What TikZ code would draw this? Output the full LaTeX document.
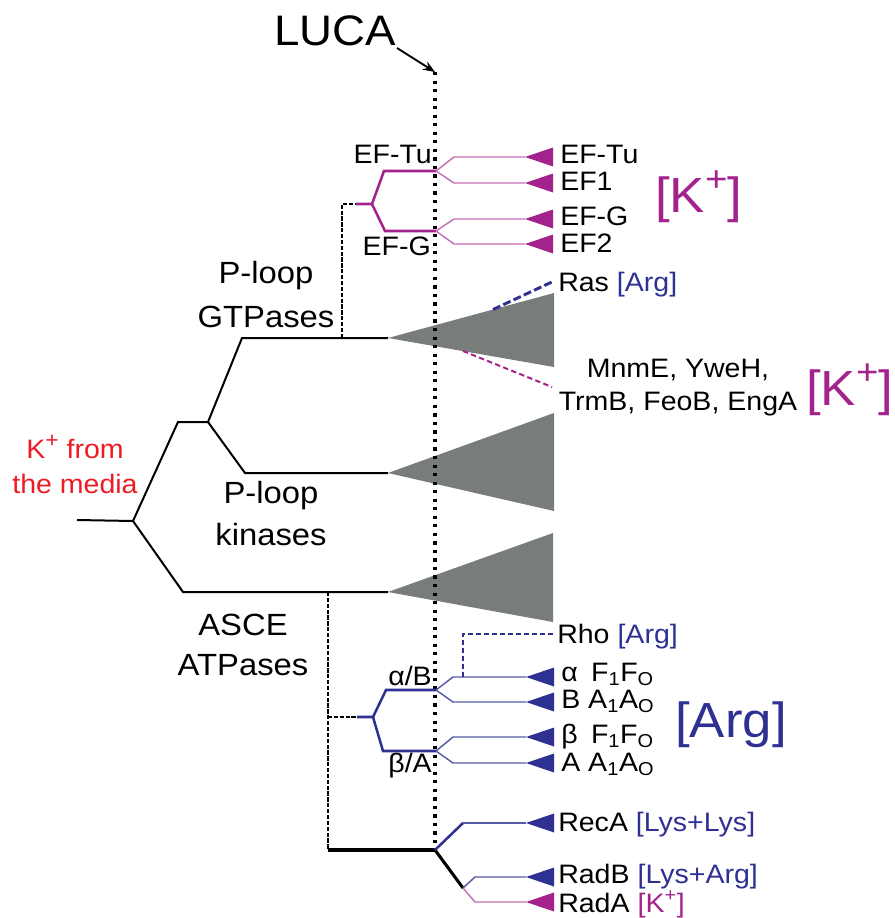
\documentclass[tikz,border=0pt]{standalone}
\usepackage{fontspec}
\setmainfont{Liberation Sans}[FakeStretch=1.07]
\usetikzlibrary{arrows.meta}
\definecolor{mag}{RGB}{163,34,140}
\definecolor{dblue}{RGB}{46,49,146}
\definecolor{tgray}{RGB}{120,125,123}
\definecolor{kred}{RGB}{237,28,36}
\newcommand\lblfont{\fontsize{20}{24}\selectfont}
\newcommand\grpfont{\fontsize{23}{28}\selectfont}
\newcommand\hugefont{\fontsize{37}{40}\selectfont}
\newcommand\lucafont{\fontsize{32}{36}\selectfont}
\newcommand\bigplus{\raisebox{0.42em}{\fontsize{27}{27}\selectfont +}}
\newcommand\leaftri[2]{\fill[#1] (#2) -- ++(28,-9.5) -- ++(0,19) -- cycle;}
\begin{document}
\begin{tikzpicture}[x=0.75pt,y=-0.75pt,
  tree/.style={line width=1.5pt,black},
  treethick/.style={line width=2.3pt,black},
  thickmag/.style={line width=1.9pt,draw=mag},
  thinmag/.style={line width=1.1pt,draw=mag!65},
  thickblue/.style={line width=1.9pt,draw=dblue},
  thinblue/.style={line width=1.1pt,draw=dblue!80},
  dotline/.style={line width=2.6pt,dash pattern=on 2.4pt off 4pt},
  dashblack/.style={line width=1.9pt,dash pattern=on 3.2pt off 1.2pt},
  lbl/.style={inner sep=0pt,font=\lblfont},
  grp/.style={inner sep=0pt,font=\grpfont,anchor=base},
  big/.style={inner sep=0pt,font=\hugefont,anchor=base west}]
\useasboundingbox (0,0) rectangle (894,918);
% ---------- coordinates ----------
\coordinate (root0) at (77,520);
\coordinate (r) at (133,521);
\coordinate (a) at (178,422);
\coordinate (a2) at (208,422);
\coordinate (g1) at (242,338);
\coordinate (gA) at (388,338);
\coordinate (k1) at (245,473);
\coordinate (kA) at (388,473);
\coordinate (s1) at (183,592);
\coordinate (sA) at (388,592);
% ---------- triangles ----------
\fill[tgray] (gA) -- (554,293) -- (554,367) -- cycle;
\fill[tgray] (kA) -- (554,413) -- (554,511) -- cycle;
\fill[tgray] (sA) -- (553,533) -- (553,622) -- cycle;
% ---------- LUCA ----------
\node[inner sep=0pt,font=\lucafont,anchor=base] (luca) at (335,45) {LUCA};
\coordinate (lucatop) at (435,72);
\coordinate (lucabot) at (435,850);
\draw[line width=1.4pt,-{Stealth[length=9pt,width=7pt]}] (397,48) -- (lucatop);
\draw[dotline] (lucatop) -- (lucabot);
% ---------- main tree ----------
\draw[tree] (root0) -- (r);
\draw[tree] (r) -- (a) -- (a2);
\draw[tree] (a2) -- (g1) -- (gA);
\draw[tree] (a2) -- (k1) -- (kA);
\draw[tree] (r) -- (s1) -- (sA);
% ---------- GTPases / EF ----------
\coordinate (gd) at (342,338);
\coordinate (gd2) at (342,204);
\coordinate (ef0) at (356,204);
\coordinate (efb) at (372,204);
\coordinate (eftu) at (436,171);
\coordinate (efg) at (436,231);
\draw[dashblack] (gd) -- (gd2) -- (ef0);
\draw[thickmag] (ef0) -- (efb) -- (384,171) -- (eftu);
\draw[thickmag] (efb) -- (385,231) -- (efg);
\coordinate (t1) at (525,157);
\coordinate (t2) at (525,183);
\coordinate (t3) at (525,219);
\coordinate (t4) at (525,244);
\draw[thinmag] (eftu) -- (454,157) -- (t1);
\draw[thinmag] (eftu) -- (454,183) -- (t2);
\draw[thinmag] (efg) -- (454,219) -- (t3);
\draw[thinmag] (efg) -- (454,244) -- (t4);
\leaftri{mag}{t1}\leaftri{mag}{t2}\leaftri{mag}{t3}\leaftri{mag}{t4}
\node[lbl,anchor=base west] (leftu) at (560,163) {EF-Tu};
\node[lbl,anchor=base west] (lef1) at (560,190) {EF1};
\node[lbl,anchor=base west] (lefg) at (560,225) {EF-G};
\node[lbl,anchor=base west] (lef2) at (560,252) {EF2};
\node[lbl,anchor=base east] (ltu) at (432,163) {EF-Tu};
\node[lbl,anchor=base east] (lg) at (431,255) {EF-G};
\node[big,text=mag] (kp1) at (655,212) {[K\bigplus]};
% Ras and MnmE
\coordinate (ras0) at (493,309.5);
\coordinate (ras1) at (554,281);
\draw[dblue,line width=2.2pt,dash pattern=on 6pt off 2.5pt] (ras0) -- (ras1);
\node[lbl,anchor=base west] (ras) at (558,291) {Ras \textcolor{dblue}{[Arg]}};
\coordinate (mn0) at (463,351);
\coordinate (mn1) at (552,387);
\draw[mag,line width=1.5pt,dash pattern=on 4pt off 2.5pt] (mn0) -- (mn1);
\node[lbl,anchor=base] (mn1t) at (678,377) {MnmE, YweH,};
\node[lbl,anchor=base] (mn2t) at (678,410) {TrmB, FeoB, EngA};
\node[big,text=mag] (kp2) at (806,405) {[K\bigplus]};
% group labels
\node[grp] (pl1) at (266,283) {P-loop};
\node[grp] (pl2) at (266,327) {GTPases};
\node[grp] (pk1) at (271,503) {P-loop};
\node[grp] (pk2) at (271,545) {kinases};
\node[grp] (as1) at (243,635) {ASCE};
\node[grp] (as2) at (243,675) {ATPases};
\node[lbl,anchor=base,text=kred] (kr1) at (75,458) {K\raisebox{0.4em}{\fontsize{16}{16}\selectfont +} from};
\node[lbl,anchor=base,text=kred] (kr2) at (75,493) {the media};
% ---------- ATPases ----------
\coordinate (ad) at (328,592);
\coordinate (ad2) at (328,850);
\coordinate (adm) at (328,717);
\coordinate (at0) at (357,717);
\coordinate (atb) at (373,717);
\coordinate (ab) at (436,690);
\coordinate (ba) at (436,751);
\draw[dashblack] (ad) -- (ad2);
\draw[dashblack] (adm) -- (at0);
\draw[thickblue] (at0) -- (atb) -- (386,690) -- (ab);
\draw[thickblue] (atb) -- (383,751) -- (ba);
\coordinate (u1) at (526,677);
\coordinate (u2) at (526,702);
\coordinate (u3) at (526,737);
\coordinate (u4) at (526,763);
\draw[thinblue] (ab) -- (453,677) -- (u1);
\draw[thinblue] (ab) -- (453,702) -- (u2);
\draw[thinblue] (ba) -- (453,737) -- (u3);
\draw[thinblue] (ba) -- (453,763) -- (u4);
\leaftri{dblue}{u1}\leaftri{dblue}{u2}\leaftri{dblue}{u3}\leaftri{dblue}{u4}
\coordinate (rho0) at (463,677);
\coordinate (rho1) at (555,634);
\draw[dblue,line width=1.4pt,dash pattern=on 4pt off 2pt] (rho0) -- (463,634) -- (rho1);
\node[lbl,anchor=base west] (rho) at (557,643) {Rho \textcolor{dblue}{[Arg]}};
\node[lbl,anchor=base west] (l1) at (561,681) {α\hspace{0.5em}F\textsubscript{1}F\textsubscript{O}};
\node[lbl,anchor=base west] (l2) at (561,708) {B A\textsubscript{1}A\textsubscript{O}};
\node[lbl,anchor=base west] (l3) at (561,743) {β\hspace{0.5em}F\textsubscript{1}F\textsubscript{O}};
\node[lbl,anchor=base west] (l4) at (561,771) {A A\textsubscript{1}A\textsubscript{O}};
\node[lbl,anchor=base east] (ab1) at (432,685) {α/B};
\node[lbl,anchor=base east] (ab2) at (432,772) {β/A};
\node[big,text=dblue] (arg) at (675,737) {[Arg]};
% ---------- RecA / Rad ----------
\coordinate (lb) at (435,850);
\coordinate (rc) at (463,823);
\coordinate (rd) at (463,888);
\coordinate (v1) at (526,823);
\coordinate (v2) at (526,877);
\coordinate (v3) at (526,902);
\draw[treethick] (ad2) -- (lb);
\draw[treethick] (lb) -- (rd);
\draw[thickblue] (lb) -- (rc);
\draw[thinblue] (rc) -- (v1);
\draw[thinblue] (rd) -- (475,877) -- (v2);
\draw[thinmag] (rd) -- (475,902) -- (v3);
\leaftri{dblue}{v1}\leaftri{dblue}{v2}\leaftri{mag}{v3}
\node[lbl,anchor=base west] (reca) at (558,831) {RecA \textcolor{dblue}{[Lys+Lys]}};
\node[lbl,anchor=base west] (radb) at (558,883) {RadB \textcolor{dblue}{[Lys+Arg]}};
\node[lbl,anchor=base west] (rada) at (558,912) {RadA \textcolor{mag}{[K\textsuperscript{+}]}};
\end{tikzpicture}
\end{document}
